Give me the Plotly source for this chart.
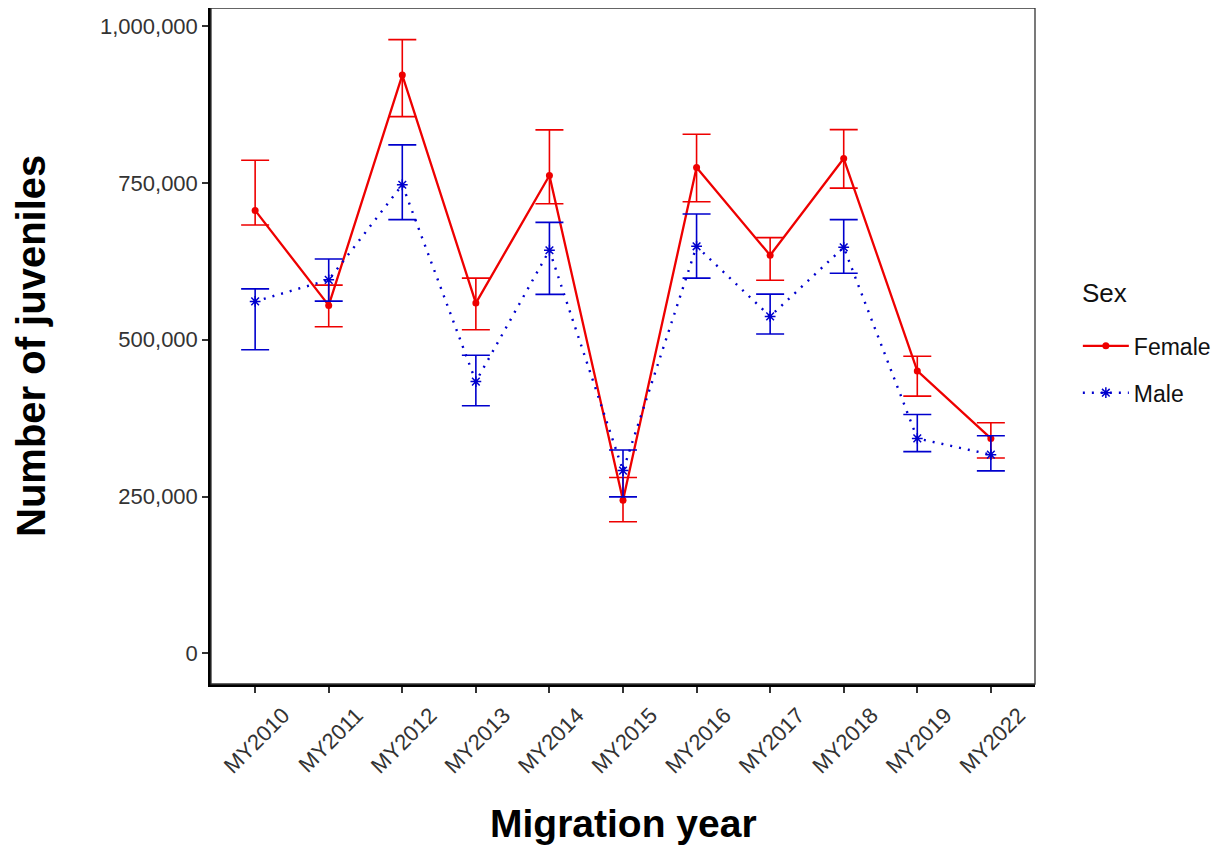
import plotly.graph_objects as go

years = ["MY2010", "MY2011", "MY2012", "MY2013", "MY2014", "MY2015",
         "MY2016", "MY2017", "MY2018", "MY2019", "MY2022"]

female_mean = [706000, 554600, 921700, 558300, 761700, 244100, 774400, 634500, 788700, 450200, 342600]
female_low = [682700, 520600, 855400, 515800, 716700, 209800, 719900, 594800, 741500, 410000, 311500]
female_high = [786000, 586900, 978200, 598000, 834300, 280200, 827300, 662700, 834800, 473600, 367600]

male_mean = [561000, 595300, 746900, 433200, 642500, 291300, 648800, 537100, 647200, 342600, 316700]
male_low = [484000, 561400, 691300, 394600, 572100, 249500, 598000, 509000, 605900, 321500, 290800]
male_high = [581000, 628600, 810400, 475100, 687000, 324200, 700200, 572600, 691300, 380700, 346900]

RED = "#EE0000"
BLUE = "#0000CD"
FONT = "Liberation Sans, Arial, sans-serif"

fig = go.Figure()

fig.add_trace(go.Scatter(
    x=years, y=female_mean, name="Female", mode="lines+markers",
    legendgroup="f",
    line=dict(color=RED, width=2.3),
    marker=dict(symbol="circle", size=7, color=RED),
    error_y=dict(type="data", symmetric=False,
                 array=[h - m for h, m in zip(female_high, female_mean)],
                 arrayminus=[m - l for m, l in zip(female_mean, female_low)],
                 color=RED, thickness=1.6, width=14),
))
fig.add_trace(go.Scatter(
    x=years, y=male_mean, name="Male", mode="lines+markers",
    legendgroup="m",
    line=dict(color=BLUE, width=2.4, dash="2px,7px"),
    marker=dict(symbol="asterisk-open", size=9, color=BLUE,
                line=dict(color=BLUE, width=1.5)),
    error_y=dict(type="data", symmetric=False,
                 array=[h - m for h, m in zip(male_high, male_mean)],
                 arrayminus=[m - l for m, l in zip(male_mean, male_low)],
                 color=BLUE, thickness=1.6, width=14),
))

fig.update_layout(
    width=1226, height=845,
    margin=dict(l=203, r=199, t=0, b=169),
    paper_bgcolor="white", plot_bgcolor="white",
    font=dict(family=FONT, color="#222"),
    showlegend=True,
    legend=dict(
        font=dict(size=23, color="#111"),
        x=1.052, xanchor="left", y=0.532, yanchor="top",
        traceorder="grouped", tracegroupgap=14,
        itemwidth=46,
        bgcolor="rgba(0,0,0,0)",
    ),
    xaxis=dict(
        type="category", range=[-0.6, 10.6],
        showgrid=False, zeroline=False,
        showline=True, linecolor="black", linewidth=2.5,
        ticks="outside", ticklen=6, tickwidth=1.5, tickcolor="#333",
        tickangle=-45, tickfont=dict(size=22, color="#333"),
        ticklabelshift=28, ticklabelstandoff=1,
    ),
    yaxis=dict(
        range=[-48800, 1028600],
        tickvals=[0, 250000, 500000, 750000, 1000000],
        ticktext=["0", "250,000", "500,000", "750,000", "1,000,000"],
        showgrid=False, zeroline=False,
        showline=True, linecolor="black", linewidth=2.5,
        ticks="outside", ticklen=6, tickwidth=1.5, tickcolor="#333",
        tickfont=dict(size=22, color="#333"),
    ),
    shapes=[dict(type="rect", xref="paper", yref="paper", x0=0, y0=0, x1=1, y1=1,
                 line=dict(color="#333", width=1.3), fillcolor="rgba(0,0,0,0)", layer="above")],
    annotations=[
        dict(text="<b>Migration year</b>", xref="paper", yref="paper",
             x=0.5, y=-0.207, yanchor="middle", xanchor="center",
             showarrow=False, font=dict(size=39, color="black")),
        dict(text="<b>Number of juveniles</b>", xref="paper", yref="paper",
             x=0, xshift=-180, y=0.5, textangle=-90, xanchor="center", yanchor="middle",
             showarrow=False, font=dict(size=40, color="black")),
        dict(text="Sex", xref="paper", yref="paper",
             x=1.0546, y=0.578, xanchor="left", yanchor="middle",
             showarrow=False, font=dict(size=26, color="#111")),
    ],
)

fig.write_html("out.html")
